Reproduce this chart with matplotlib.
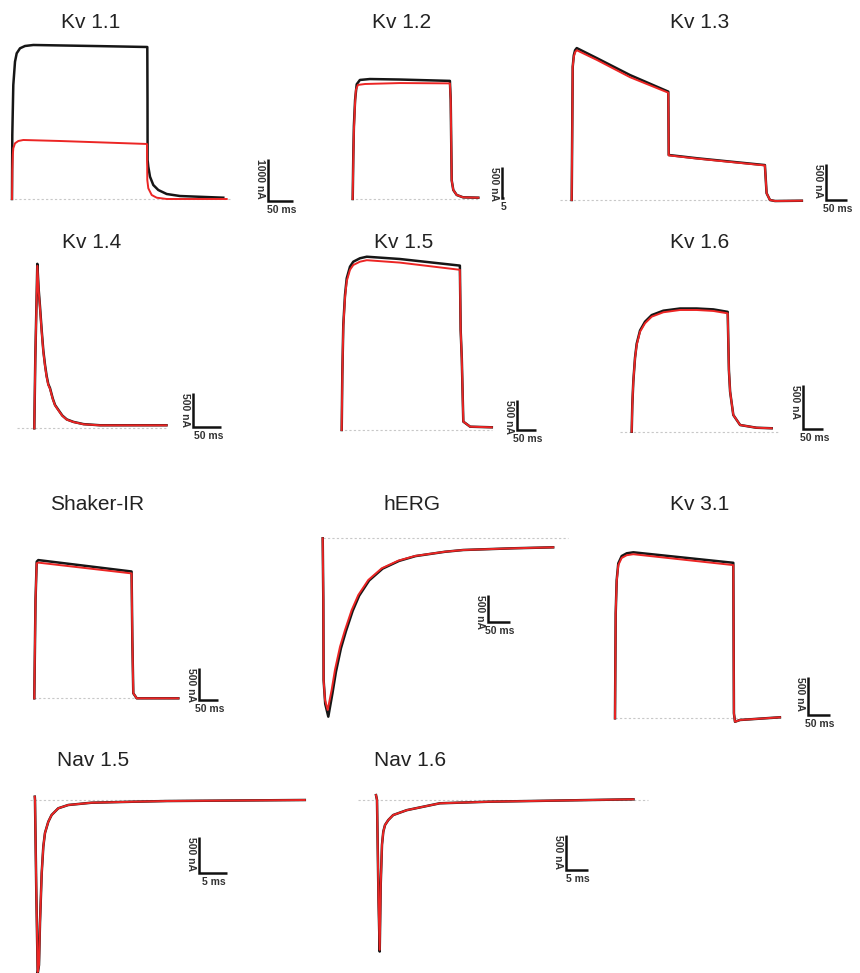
import matplotlib.pyplot as plt

plt.rcParams['font.family'] = ['Liberation Sans', 'DejaVu Sans']

W, H = 860, 973
RED = '#ec2524'
BLACK = '#161616'

# current traces: time in ms, current in nA
kv11_t_black = [0, 0.6, 2.6, 6, 9.4, 16, 26, 42.6, 176, 270.6, 271, 271.2, 272.6, 276,
                282.6, 292.6, 309.4, 336, 422.6]
kv11_i_black = [0, 1524, 2714, 3269, 3469, 3588, 3643, 3667, 3640, 3619, 2357, 929, 769, 531,
                333, 214, 119, 71, 31]
kv11_t_red = [0, 0.6, 1.6, 2.6, 6, 12.6, 22.6, 96, 270, 270.6, 272.6, 279.4, 289.4, 309.4, 429.4]
kv11_i_red = [0, 690, 1048, 1207, 1326, 1381, 1405, 1381, 1310, 452, 255, 95, 31, 0, 0]

kv12_t_black = [0, 1.5, 3, 6, 10, 18, 43, 118, 243, 245, 247.5, 251.5, 260, 276, 314]
kv12_i_black = [0, 700, 1180, 1600, 1850, 1920, 1935, 1927, 1905, 1600, 300, 145, 65, 27, 21]
kv12_t_red = [0, 1.5, 3, 6, 8, 13, 31, 118, 243, 245, 247.5, 251.5, 260, 276, 314]
kv12_i_red = [0, 650, 1110, 1560, 1760, 1840, 1855, 1870, 1865, 1600, 300, 145, 65, 27, 21]

kv13_t = [0, 2.4, 5, 8, 12, 60, 139, 230, 231, 298, 460, 464, 472, 484, 548]
kv13_i_black = [0, 1850, 2010, 2080, 2110, 1970, 1735, 1505, 625, 580, 485, 95, 0, -14, -10]
kv13_i_red = [0, 1850, 1990, 2050, 2080, 1945, 1705, 1490, 620, 575, 480, 95, 0, -14, -10]

kv14_t = [0, 1.8, 5.4, 7.9, 10.2, 13.2, 16.1, 19.1, 22, 25, 28, 33, 37, 43, 50, 58, 70, 88,
          117, 236]
kv14_i_black = [0, 1010, 2370, 1990, 1750, 1410, 1120, 915, 755, 635, 580, 428, 336, 265, 184,
                128, 92, 60, 44, 44]
kv14_i_red = [0, 1010, 2340, 1968, 1729, 1392, 1104, 900, 740, 624, 570, 420, 330, 260, 180,
              125, 90, 58, 43, 43]

kv15_t = [0, 1.6, 4.2, 8.7, 13.2, 21.8, 30.5, 48, 66, 153, 311, 313, 316, 320, 338, 395]
kv15_i_black = [0, 917, 1750, 2250, 2528, 2722, 2805, 2862, 2888, 2850, 2740, 1670, 1195, 140,
                55, 45]
kv15_i_red = [0, 900, 1720, 2210, 2480, 2670, 2750, 2805, 2830, 2790, 2670, 1670, 1195, 140,
              55, 45]

kv16_t = [0, 1.5, 4, 8.3, 12.5, 20.8, 33.3, 50, 79, 120.8, 162.5, 204, 240, 243, 246, 254, 271,
          312, 350]
kv16_i_black = [0, 303, 568, 840, 1000, 1150, 1250, 1325, 1375, 1400, 1400, 1390, 1362, 701, 455,
                190, 76, 45, 39]
kv16_i_red = [0, 303, 568, 834, 986, 1136, 1232, 1307, 1357, 1383, 1383, 1372, 1345, 701, 455,
              190, 76, 45, 39]

shaker_t = [0, 3.2, 6.3, 10.5, 256, 258, 260.5, 269.5, 379]
shaker_i_black = [0, 1550, 2155, 2180, 2000, 920, 80, 0, 0]
shaker_i_red = [0, 1550, 2130, 2140, 1970, 920, 80, 0, 0]

herg_t_black = [0, 1.4, 2.1, 5.8, 12.9, 22.5, 30.5, 42, 53.5, 69, 84, 107, 138, 176, 214, 282,
                324, 439, 531]
herg_i_black = [0, -1155, -2654, -3100, -3340, -2900, -2500, -2060, -1740, -1360, -1075, -790,
                -568, -423, -333, -252, -219, -187, -169]
herg_t_red = [0, 1.4, 2.1, 5.3, 11.5, 20.7, 28.3, 39.9, 51.4, 66.8, 82, 105, 136, 174, 212.7,
              281.8, 324, 439, 531]
herg_i_red = [0, -1155, -2654, -3028, -3215, -2835, -2461, -2030, -1717, -1343, -1062, -781,
              -562, -419, -331, -251, -219, -187, -169]

kv31_t = [0, 1.6, 3.9, 7.6, 15.4, 27, 42.2, 272.6, 274, 276.5, 288, 380]
kv31_i_black = [0, 1371, 1805, 2023, 2118, 2154, 2167, 2030, 65, -45, -22, 13]
kv31_i_red = [0, 1371, 1790, 2000, 2093, 2129, 2142, 2000, 65, -45, -22, 13]

nav15_t = [-0.04, 0, 0.23, 0.49, 0.72, 0.9, 1.21, 1.5, 1.8, 2.4, 3.0, 4.2, 6.0, 10.2, 18, 23.8,
           48.7]
nav15_i_black = [45, 0, -1226, -2365, -2248, -1676, -995, -636, -450, -296, -204, -113, -68, -37,
                 -23, -14, 0]
nav15_i_red = [45, 0, -1226, -2343, -2248, -1676, -995, -636, -450, -296, -204, -113, -68, -37,
               -23, -14, 0]

nav16_t = [0, 0.23, 0.57, 0.84, 1.07, 1.36, 1.66, 2.05, 2.8, 3.9, 7.0, 14.5, 25.9, 58.5]
nav16_i_black = [70, 0, -1430, -2165, -1210, -640, -452, -357, -286, -215, -145, -47, -24, 10]
nav16_i_red = [70, 0, -1430, -2140, -1210, -640, -452, -357, -286, -215, -145, -47, -24, 10]

titles = ['Kv 1.1', 'Kv 1.2', 'Kv 1.3', 'Kv 1.4', 'Kv 1.5', 'Kv 1.6',
          'Shaker-IR', 'hERG', 'Kv 3.1', 'Nav 1.5', 'Nav 1.6']
traces = [
    (kv11_t_black, kv11_i_black, kv11_t_red, kv11_i_red),
    (kv12_t_black, kv12_i_black, kv12_t_red, kv12_i_red),
    (kv13_t, kv13_i_black, kv13_t, kv13_i_red),
    (kv14_t, kv14_i_black, kv14_t, kv14_i_red),
    (kv15_t, kv15_i_black, kv15_t, kv15_i_red),
    (kv16_t, kv16_i_black, kv16_t, kv16_i_red),
    (shaker_t, shaker_i_black, shaker_t, shaker_i_red),
    (herg_t_black, herg_i_black, herg_t_red, herg_i_red),
    (kv31_t, kv31_i_black, kv31_t, kv31_i_red),
    (nav15_t, nav15_i_black, nav15_t, nav15_i_red),
    (nav16_t, nav16_i_black, nav16_t, nav16_i_red),
]
# scale bars
bar_ms = [50, 5, 50, 50, 50, 50, 50, 50, 50, 5, 5]
bar_na = [1000, 500, 500, 500, 500, 500, 500, 500, 500, 500, 500]
bar_ms_label = ['50 ms', '5', '50 ms', '50 ms', '50 ms', '50 ms',
                '50 ms', '50 ms', '50 ms', '5 ms', '5 ms']
# dotted zero line extent in ms
zero_from = [-4, -5, -28, -31, -4, -29, 0, 0, 0, -0.9, -4.1]
zero_to = [436, 315, 543, 237, 395, 371, 383, 565, 380, 48.7, 61.8]

# layout in pixels: title centre, trace origin, px per ms, px per nA, scale-bar corner
layout = [
    dict(title=(91, 22), origin=(12, 199), sx=0.5, sy=0.042, bar=(268, 201)),
    dict(title=(402, 22), origin=(352.7, 199), sx=0.4, sy=0.062, bar=(501.7, 198)),
    dict(title=(700, 22), origin=(571.7, 200), sx=0.42, sy=0.072, bar=(826, 200)),
    dict(title=(92, 242), origin=(34.3, 428.3), sx=0.56, sy=0.0694, bar=(193.3, 427.3)),
    dict(title=(404, 242), origin=(341.7, 430), sx=0.38, sy=0.06, bar=(517.3, 430)),
    dict(title=(700, 242), origin=(631.7, 431.7), sx=0.4, sy=0.088, bar=(803.3, 429)),
    dict(title=(97, 505), origin=(34.3, 698.3), sx=0.38, sy=0.0634, bar=(199, 700)),
    dict(title=(412, 505), origin=(322.7, 538.3), sx=0.434, sy=0.0534, bar=(488.3, 621.7)),
    dict(title=(700, 505), origin=(615, 718.3), sx=0.434, sy=0.0766, bar=(808.3, 715)),
    dict(title=(93, 760), origin=(35, 800), sx=5.54, sy=0.0734, bar=(199, 873.3)),
    dict(title=(410, 760), origin=(376, 800), sx=4.4, sy=0.07, bar=(566, 870)),
]

fig = plt.figure(figsize=(W / 100, H / 100), dpi=100)

for k, lay in enumerate(layout):
    x0, y0 = lay['origin']
    sx, sy = lay['sx'], lay['sy']
    # one transparent full-figure axes per panel, scaled so ms / nA land on the right pixels
    ax = fig.add_axes([0, 0, 1, 1])
    ax.set_xlim(-x0 / sx, (W - x0) / sx)
    ax.set_ylim((y0 - H) / sy, y0 / sy)
    ax.axis('off')
    ax.patch.set_alpha(0)

    ax.plot([zero_from[k], zero_to[k]], [0, 0], color='#c8c8c8', lw=0.8,
            linestyle=(0, (2, 2)))
    tb, ib, tr, ir = traces[k]
    ax.plot(tb, ib, color=BLACK, lw=1.8, solid_joinstyle='round')
    ax.plot(tr, ir, color=RED, lw=1.4, solid_joinstyle='round')

    bx = (lay['bar'][0] - x0) / sx
    by = (y0 - lay['bar'][1]) / sy
    ax.plot([bx, bx, bx + bar_ms[k]], [by + bar_na[k], by, by], color='#111111',
            lw=1.8, solid_joinstyle='miter', solid_capstyle='butt')
    ax.annotate(f'{bar_na[k]} nA', xy=(bx, by + bar_na[k]), xytext=(-8, 0),
                textcoords='offset pixels', rotation=-90, ha='center', va='top',
                fontsize=7.5, fontweight='bold', color='#333333')
    ax.annotate(bar_ms_label[k], xy=(bx + bar_ms[k] / 2, by), xytext=(1, -4),
                textcoords='offset pixels', ha='center', va='top',
                fontsize=7.5, fontweight='bold', color='#333333')

    fig.text(lay['title'][0] / W, 1 - lay['title'][1] / H, titles[k],
             ha='center', va='center', fontsize=15, color='#222222')

fig.savefig('out.png', dpi=100, facecolor='white')
